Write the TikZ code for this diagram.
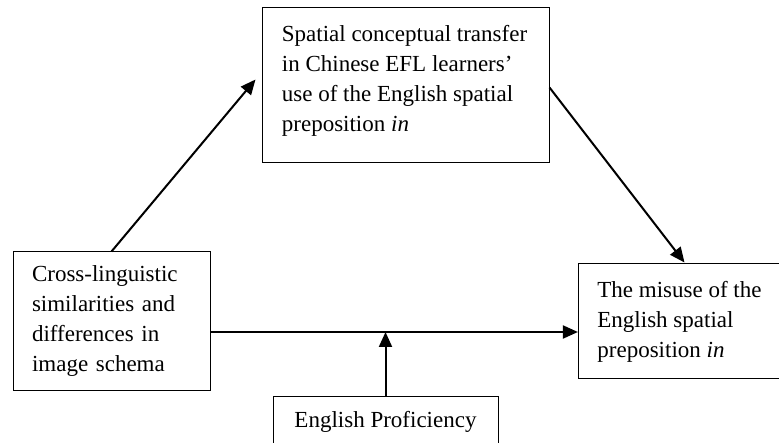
\documentclass[tikz,border=0pt]{standalone}
\usepackage{fontspec}
\setmainfont{Liberation Serif}
\usetikzlibrary{arrows.meta,calc}
\begin{document}
\begin{tikzpicture}[x=1pt,y=-1pt,
  box/.style={draw,line width=1pt,inner xsep=19pt,inner ysep=0pt,align=left,
    font=\fontsize{23}{30}\selectfont},
  txt/.style={inner sep=0pt,align=left,font=\fontsize{23}{30}\selectfont},
  arr/.style={line width=2pt,-{Triangle[length=15pt,width=13pt]}}]
\useasboundingbox (0,0) rectangle (779,443);
\node[box,minimum width=287pt,minimum height=155pt] (top) at (405.5,85.5) {};
\node[txt] (toptext) at ($(top.center)+(-1,-5)$)
  {Spatial conceptual transfer\\in Chinese EFL learners’\\use of the English spatial\\preposition \textit{in}};
\node[box,text width=159pt,minimum width=197pt,minimum height=139pt] (left) at (111.5,321.5)
  {Cross-linguistic\\similarities and\\differences in\\image schema};
\node[box,minimum width=197pt,minimum height=115pt] (right) at (679.5,321.5)
  {The misuse of the\\English spatial\\preposition \textit{in}};
\node[box,align=center,minimum width=225pt,minimum height=50pt] (bottom) at (385.5,422)
  {English Proficiency};
\coordinate (hs) at ($(left.east)+(0,10.5)$);
\coordinate (he) at ($(right.west)+(0,10.5)$);
\draw[arr] (hs) -- (he);
\draw[arr] (bottom.north) -- (bottom.north |- hs);
\draw[arr] (left.north) -- ($(top.west)+(-6,-6)$);
\draw[arr] ($(top.east)+(0,2)$) -- ($(right.north)+(5,-1)$);
\end{tikzpicture}
\end{document}
